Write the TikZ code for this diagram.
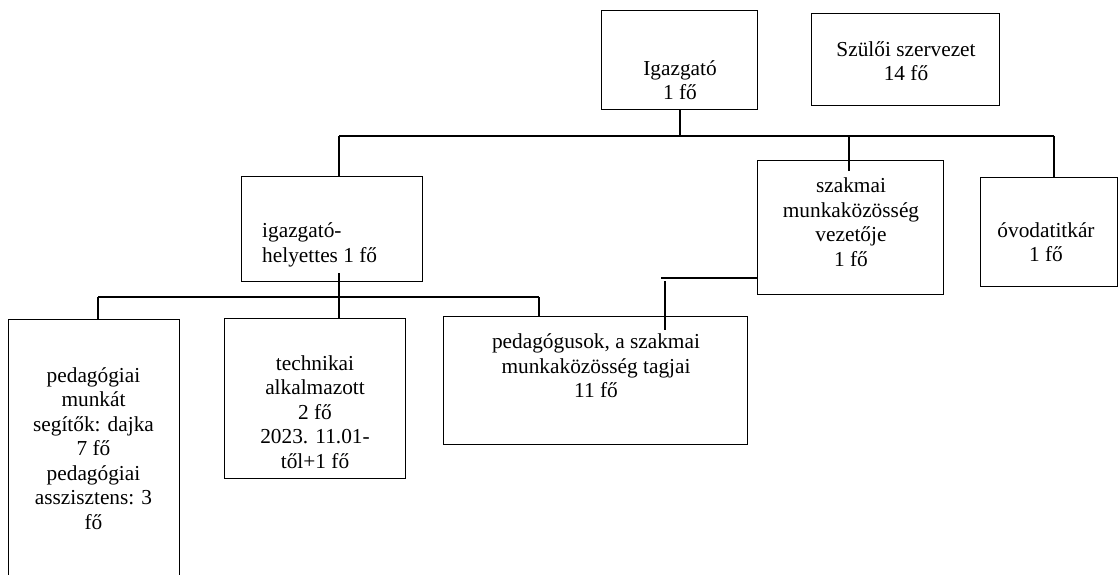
\documentclass[tikz,border=0pt]{standalone}
\usepackage{fontspec}
\setmainfont{Liberation Serif}
\begin{document}
\begin{tikzpicture}[x=1pt,y=-1pt,
  box/.style={draw=black, line width=0.9pt, inner sep=0pt},
  conn/.style={draw=black, line width=1.7pt},
  txt/.style={font=\fontsize{21.33}{24.5}\selectfont, align=center, inner sep=0pt}]
\useasboundingbox (0,0) rectangle (1119,575);
\clip (0,0) rectangle (1119,575);
% boxes
\node[box, minimum width=156pt, minimum height=99pt] (igaz) at (679.7,59.5) {};
\node[box, minimum width=187.3pt, minimum height=92.4pt] (szulo) at (905.4,59.5) {};
\node[box, minimum width=181pt, minimum height=104.3pt] (helyettes) at (332.2,228.9) {};
\node[box, minimum width=185.5pt, minimum height=133.8pt] (szakvez) at (850.2,227.6) {};
\node[box, minimum width=137.5pt, minimum height=108.5pt] (titkar) at (1048.7,231.7) {};
\node[box, minimum width=171.5pt, minimum height=271pt] (pedseg) at (93.7,454.5) {};
\node[box, minimum width=181pt, minimum height=160pt] (tech) at (314.5,398) {};
\node[box, minimum width=303.5pt, minimum height=127.8pt] (pedag) at (595.2,380.6) {};
% texts
\node[txt] (t1) at (680,80) {Igazgató\\1 fő};
\node[txt] (t2) at (906,61) {Szülői szervezet\\14 fő};
\node[txt, align=left, anchor=west] (t3) at (262,245) {igazgató-\\helyettes 1 fő};
\node[txt] (t4) at (851,222) {szakmai\\munkaközösség\\vezetője\\1 fő};
\node[txt] (t5) at (1046,242) {óvodatitkár\\1 fő};
\node[txt] (t6) at (93.5,448.5) {pedagógiai\\munkát\\segítők: dajka\\7 fő\\pedagógiai\\asszisztens: 3\\fő};
\node[txt] (t7) at (315,412) {technikai\\alkalmazott\\2 fő\\2023. 11.01-\\től+1 fő};
\node[txt] (t8) at (596,366) {pedagógusok, a szakmai\\munkaközösség tagjai\\11 fő};
% connector coordinates
\coordinate (busL) at (339,136);
\coordinate (busM) at (849,136);
\coordinate (busR) at (1054,136);
\coordinate (szakIn) at (849,171);
\coordinate (hStart) at (339,273);
\coordinate (lowL) at (98,297);
\coordinate (lowR) at (539,297);
\coordinate (sk1) at (661,278);
\coordinate (sk2) at (665,281);
\coordinate (sk3) at (665,330);
% connectors
\draw[conn] (igaz.south) -- (igaz.south |- busL);
\draw[conn] (busL) -- (busR);
\draw[conn] (busL) -- (busL |- helyettes.north);
\draw[conn] (busM) -- (szakIn);
\draw[conn] (busR) -- (busR |- titkar.north);
\draw[conn] (hStart) -- (hStart |- tech.north);
\draw[conn] (lowL) -- (lowR);
\draw[conn] (lowL) -- (lowL |- pedseg.north);
\draw[conn] (lowR) -- (lowR |- pedag.north);
\draw[conn] (sk1) -- (sk1 -| szakvez.west);
\draw[conn] (sk2) -- (sk3);
\end{tikzpicture}
\end{document}
